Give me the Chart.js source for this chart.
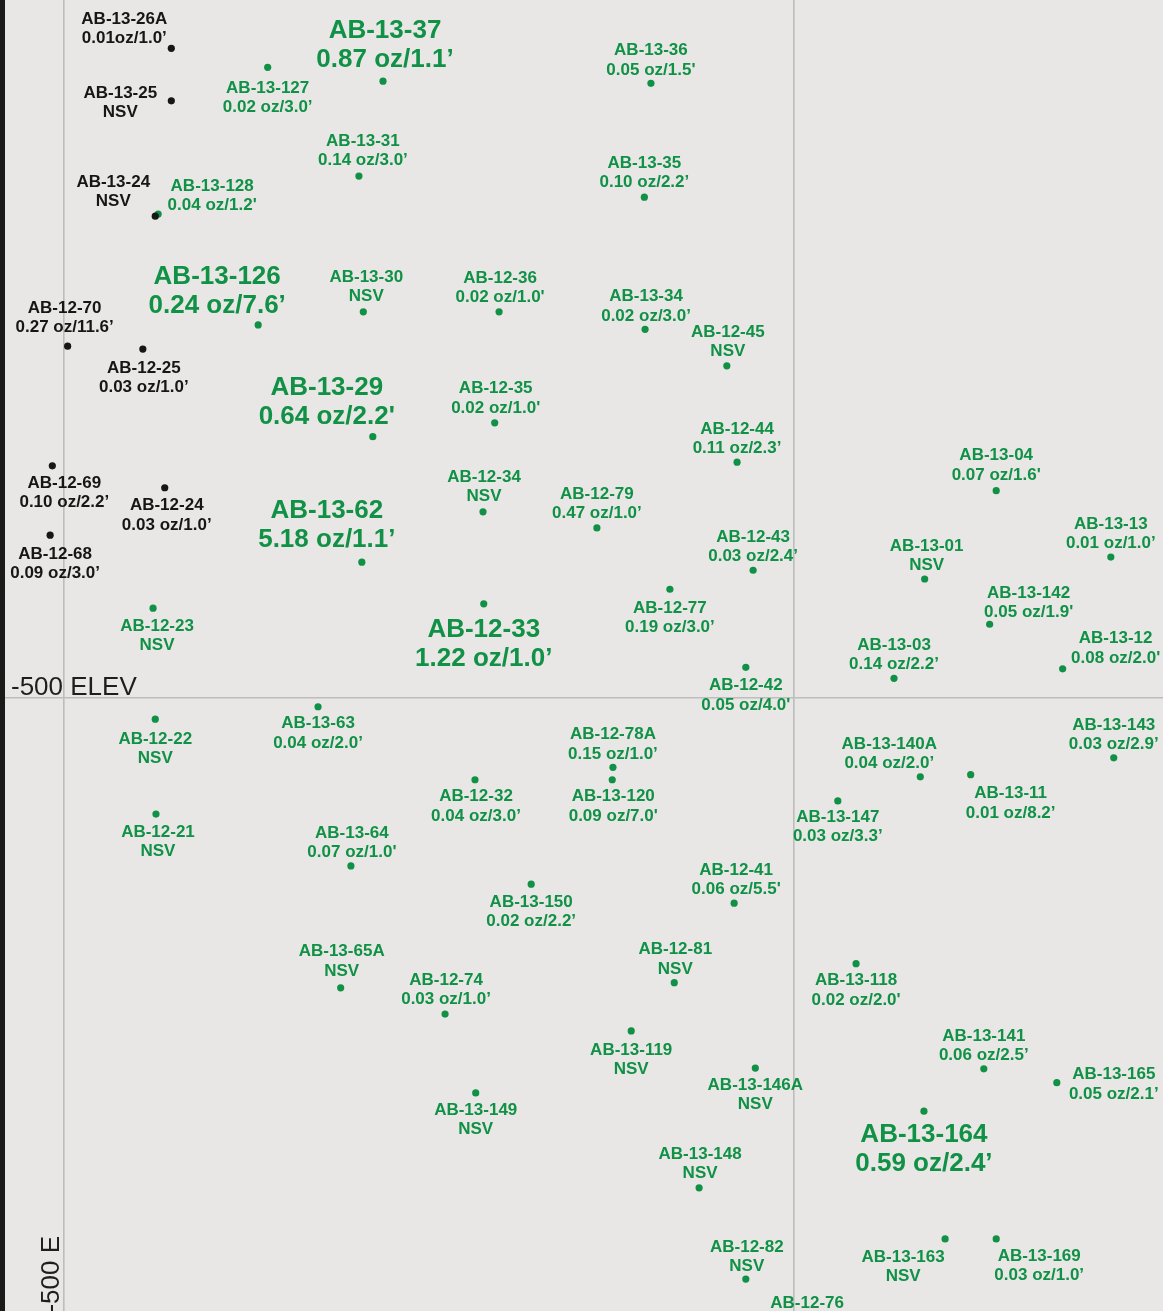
<!DOCTYPE html>
<html><head><meta charset="utf-8">
<script src="https://cdn.jsdelivr.net/npm/chart.js@4/dist/chart.umd.min.js"></script>
<style>html,body{margin:0;padding:0;background:#e8e7e5;overflow:hidden}canvas{display:block}</style>
</head><body><canvas id="c" width="1163" height="1311"></canvas>
<script>
// ---------- DATA ----------
// Section grid reference lines (easting, elevation in ft)
const eastingGrid = [-500, -400];
const elevationGrid = [-500];
const eastingLabel = '-500 E';
const elevationLabel = '-500 ELEV';

// Earlier holes (black)
const blackHoles = ['AB-13-26A','AB-13-25','AB-13-24','AB-12-70','AB-12-25','AB-12-69','AB-12-24','AB-12-68'];
const blackEasting = [-485.3,-485.3,-487.5,-499.5,-489.2,-501.6,-486.2,-501.9];
const blackElevation = [-411.0,-418.2,-434.0,-451.8,-452.2,-468.2,-471.2,-477.7];
const blackAssay = ['0.01oz/1.0’','NSV','NSV','0.27 oz/11.6’','0.03 oz/1.0’','0.10 oz/2.2’','0.03 oz/1.0’','0.09 oz/3.0’'];

// Holes on section (green)
const greenHoles = ['AB-13-127','AB-13-37','AB-13-36','AB-13-31','AB-13-35','AB-13-128','AB-13-126','AB-13-30','AB-12-36','AB-13-34',
  'AB-12-45','AB-13-29','AB-12-35','AB-12-44','AB-13-04','AB-12-34','AB-12-79','AB-13-62','AB-13-13','AB-13-01',
  'AB-12-43','AB-12-77','AB-12-23','AB-12-33','AB-13-142','AB-13-12','AB-13-03','AB-12-42','AB-13-63','AB-12-22',
  'AB-13-143','AB-13-140A','AB-13-11','AB-12-78A','AB-13-120','AB-12-32','AB-13-147','AB-12-21','AB-13-64','AB-12-41',
  'AB-13-150','AB-13-65A','AB-12-74','AB-12-81','AB-13-118','AB-13-119','AB-13-141','AB-13-165','AB-13-146A','AB-13-149',
  'AB-13-164','AB-13-148','AB-12-82','AB-13-163','AB-13-169','AB-12-76'];
const greenEasting = [-472.1,-456.3,-419.6,-459.6,-420.5,-487.1,-473.4,-459.0,-440.4,-420.4,
  -409.2,-457.7,-441.0,-407.8,-372.3,-442.6,-427.0,-459.2,-356.6,-382.1,
  -405.6,-417.0,-487.8,-442.5,-373.2,-363.2,-386.3,-406.6,-465.2,-487.5,
  -356.2,-382.7,-375.8,-424.8,-424.9,-443.7,-394.0,-487.4,-460.7,-408.2,
  -436.0,-462.1,-447.8,-416.4,-391.5,-422.3,-374.0,-364.0,-405.3,-443.6,
  -382.2,-413.0,-406.6,-379.3,-372.3,-398.2];
const greenElevation = [-413.6,-415.5,-415.8,-428.5,-431.4,-433.7,-448.9,-447.1,-447.1,-449.5,
  -454.5,-464.2,-462.3,-467.7,-471.6,-474.5,-476.7,-481.4,-480.7,-483.7,
  -482.5,-485.1,-487.7,-487.1,-489.9,-496.0,-497.3,-495.8,-501.2,-502.9,
  -508.2,-510.8,-510.5,-509.5,-511.2,-511.2,-514.1,-515.9,-523.0,-528.1,
  -525.5,-539.7,-543.3,-539.0,-536.4,-545.6,-550.8,-552.7,-550.7,-554.1,
  -556.6,-567.1,-579.6,-574.1,-574.1,-587.3];
const greenAssay = ['0.02 oz/3.0’','0.87 oz/1.1’','0.05 oz/1.5\'','0.14 oz/3.0’','0.10 oz/2.2’','0.04 oz/1.2\'','0.24 oz/7.6’','NSV','0.02 oz/1.0\'','0.02 oz/3.0’',
  'NSV','0.64 oz/2.2\'','0.02 oz/1.0\'','0.11 oz/2.3’','0.07 oz/1.6\'','NSV','0.47 oz/1.0’','5.18 oz/1.1’','0.01 oz/1.0’','NSV',
  '0.03 oz/2.4’','0.19 oz/3.0’','NSV','1.22 oz/1.0’','0.05 oz/1.9\'','0.08 oz/2.0\'','0.14 oz/2.2’','0.05 oz/4.0\'','0.04 oz/2.0’','NSV',
  '0.03 oz/2.9’','0.04 oz/2.0’','0.01 oz/8.2’','0.15 oz/1.0’','0.09 oz/7.0\'','0.04 oz/3.0’','0.03 oz/3.3’','NSV','0.07 oz/1.0\'','0.06 oz/5.5\'',
  '0.02 oz/2.2’','NSV','0.03 oz/1.0’','NSV','0.02 oz/2.0\'','NSV','0.06 oz/2.5’','0.05 oz/2.1’','NSV','NSV',
  '0.59 oz/2.4’','NSV','NSV','NSV','0.03 oz/1.0’',null];

// ---------- STYLE / LAYOUT ----------
const highlightHoles = ['AB-13-37','AB-13-126','AB-13-29','AB-13-62','AB-12-33','AB-13-164'];
// label offset [dx, dy] in px from the dot to the centre of the first label line
const labelOffsets = {
  'AB-13-26A':[-47,-30],'AB-13-25':[-51,-9],'AB-13-24':[-42,-35],'AB-12-70':[-3,-39],'AB-12-25':[1,18],
  'AB-12-69':[12,16],'AB-12-24':[2,17],'AB-12-68':[5,18],
  'AB-13-127':[0,20],'AB-13-37':[2,-52],'AB-13-36':[0,-34],'AB-13-31':[4,-36],'AB-13-35':[0,-35],
  'AB-13-128':[54,-29],'AB-13-126':[-41,-50],'AB-13-30':[3,-36],'AB-12-36':[1,-35],'AB-13-34':[1,-34],
  'AB-12-45':[1,-35],'AB-13-29':[-46,-51],'AB-12-35':[1,-35],'AB-12-44':[0,-34],'AB-13-04':[0,-36],
  'AB-12-34':[1,-36],'AB-12-79':[0,-35],'AB-13-62':[-35,-53],'AB-13-13':[0,-34],'AB-13-01':[2,-34],
  'AB-12-43':[0,-34],'AB-12-77':[0,18],'AB-12-23':[4,17],'AB-12-33':[0,24],'AB-13-142':[39,-32],
  'AB-13-12':[53,-31],'AB-13-03':[0,-34],'AB-12-42':[0,17],'AB-13-63':[0,16],'AB-12-22':[0,19],
  'AB-13-143':[0,-34],'AB-13-140A':[-31,-34],'AB-13-11':[40,18],'AB-12-78A':[0,-34],'AB-13-120':[1,16],
  'AB-12-32':[1,16],'AB-13-147':[0,15],'AB-12-21':[2,17],'AB-13-64':[1,-34],'AB-12-41':[2,-34],
  'AB-13-150':[0,17],'AB-13-65A':[1,-37],'AB-12-74':[1,-35],'AB-12-81':[1,-34],'AB-13-118':[0,16],
  'AB-13-119':[0,18],'AB-13-141':[0,-34],'AB-13-165':[57,-9],'AB-13-146A':[0,16],'AB-13-149':[0,16],
  'AB-13-164':[0,22],'AB-13-148':[1,-35],'AB-12-82':[1,-33],'AB-13-163':[-42,17],'AB-13-169':[43,16],
  'AB-12-76':[0,-33]
};
const GREEN = '#109146';
const BLACK = '#161616';
const BG = '#e8e7e5';
const GRID = '#bdbdbd';
const FONT = '"Liberation Sans", Arial, Helvetica, sans-serif';

function toPoints(xs, ys){ return xs.map((x,i)=>({x:x, y:ys[i]})); }

const labelPlugin = {
  id: 'holeLabels',
  beforeDraw(chart){
    const ctx = chart.ctx;
    ctx.save(); ctx.fillStyle = BG; ctx.fillRect(0,0,chart.width,chart.height); ctx.restore();
  },
  afterDatasetsDraw(chart){
    const ctx = chart.ctx;
    ctx.save();
    ctx.textAlign = 'center';
    ctx.textBaseline = 'middle';
    chart.data.datasets.forEach((ds, di) => {
      const meta = chart.getDatasetMeta(di);
      meta.data.forEach((el, i) => {
        const name = ds.holeNames[i];
        const assay = ds.assays[i];
        const off = labelOffsets[name] || [0, -34];
        const big = highlightHoles.includes(name);
        const size = big ? 26 : 17;
        const gap = big ? 29 : 19.5;
        const nudge = big ? 2 : 1;
        ctx.font = 'bold ' + size + 'px ' + FONT;
        ctx.fillStyle = ds.backgroundColor;
        const x = el.x + off[0], y = el.y + off[1] + nudge;
        ctx.fillText(name, x, y);
        if (assay) ctx.fillText(assay, x, y + gap);
      });
    });
    // axis reference labels
    const xs = chart.scales.x, ys = chart.scales.y;
    ctx.fillStyle = '#1e1e1e';
    ctx.font = '26px ' + FONT;
    ctx.textAlign = 'left';
    ctx.textBaseline = 'alphabetic';
    ctx.fillText(elevationLabel, xs.getPixelForValue(eastingGrid[0]) - 53, ys.getPixelForValue(elevationGrid[0]) - 3);
    ctx.save();
    ctx.translate(xs.getPixelForValue(eastingGrid[0]) - 5, 1236);
    ctx.rotate(-Math.PI/2);
    ctx.textAlign = 'right';
    ctx.fillText(eastingLabel, 0, 0);
    ctx.restore();
    // left dark frame edge
    ctx.fillStyle = '#1a1a1a';
    ctx.fillRect(0, 0, 5, chart.height);
    ctx.restore();
  }
};

new Chart(document.getElementById('c'), {
  type: 'scatter',
  data: {
    datasets: [
      { label: 'Prior holes', data: toPoints(blackEasting, blackElevation), holeNames: blackHoles, assays: blackAssay,
        backgroundColor: BLACK, borderWidth: 0, pointRadius: 3.6, pointHoverRadius: 3.6 },
      { label: 'Section holes', data: toPoints(greenEasting, greenElevation), holeNames: greenHoles, assays: greenAssay,
        backgroundColor: GREEN, borderWidth: 0, pointRadius: 3.6, pointHoverRadius: 3.6 }
    ]
  },
  options: {
    responsive: false,
    animation: false,
    events: [],
    layout: { padding: 0, autoPadding: false },
    plugins: { legend: { display: false }, tooltip: { enabled: false } },
    scales: {
      x: {
        type: 'linear', min: -508.767, max: -349.452,
        afterBuildTicks: (s) => { s.ticks = eastingGrid.map(v => ({value: v})); },
        ticks: { display: false },
        grid: { color: GRID, lineWidth: 1.6, drawTicks: false, tickLength: 0 },
        border: { display: false }
      },
      y: {
        type: 'linear', min: -583.973, max: -404.384,
        afterBuildTicks: (s) => { s.ticks = elevationGrid.map(v => ({value: v})); },
        ticks: { display: false },
        grid: { color: GRID, lineWidth: 1.6, drawTicks: false, tickLength: 0 },
        border: { display: false }
      }
    }
  },
  plugins: [labelPlugin]
});
</script></body></html>
